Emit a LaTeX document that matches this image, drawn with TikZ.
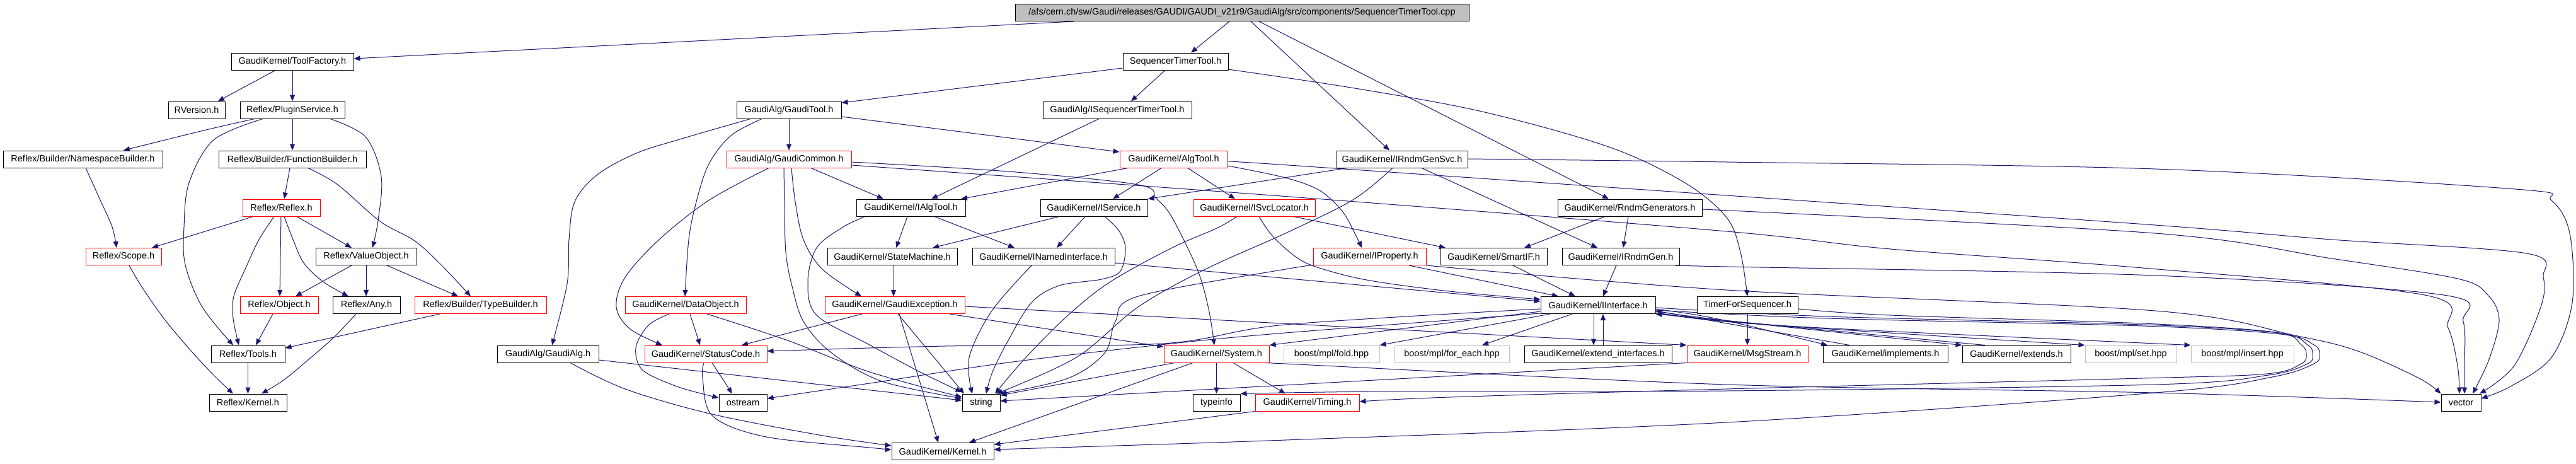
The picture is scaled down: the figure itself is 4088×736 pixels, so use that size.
\documentclass[tikz,border=0pt]{standalone}
\usepackage{fontspec}
\setmainfont{Liberation Sans}
\usetikzlibrary{arrows.meta}
\pgfdeclarelayer{bg}
\pgfsetlayers{bg,main}
\definecolor{edgec}{HTML}{191970}
\definecolor{greyb}{HTML}{BFBFBF}
\tikzset{
  nd/.style={draw=black, fill=white, line width=1pt, minimum height=27pt, inner sep=0pt, font=\fontsize{14.5}{16}\selectfont},
  rn/.style={nd, draw=red},
  gn/.style={nd, draw=greyb},
  rootn/.style={nd, fill=greyb},
  e/.style={draw=edgec, line width=1pt, -{Triangle[length=10pt,width=8pt]}},
  sm/.style={smooth, tension=0.55},
}
\begin{document}
\begin{tikzpicture}[x=1pt,y=-1pt]
\useasboundingbox (0,0) rectangle (4088,736);
% row 0
\node[rootn, minimum width=720pt] (root) at (1971,20) {/afs/cern.ch/sw/Gaudi/releases/GAUDI/GAUDI\_v21r9/GaudiAlg/src/components/SequencerTimerTool.cpp};
% row 1
\node[nd, minimum width=194pt] (toolfactory) at (464,97.5) {GaudiKernel/ToolFactory.h};
\node[nd, minimum width=167pt] (seqtt) at (1865.5,97.5) {SequencerTimerTool.h};
% row 2
\node[nd, minimum width=90pt] (rversion) at (312,174.5) {RVersion.h};
\node[nd, minimum width=166pt] (plugin) at (464,174.5) {Reflex/PluginService.h};
\node[nd, minimum width=166pt] (gauditool) at (1252,174.5) {GaudiAlg/GaudiTool.h};
\node[nd, minimum width=236pt] (iseqtt) at (1773,174.5) {GaudiAlg/ISequencerTimerTool.h};
% row 3
\node[nd, minimum width=253pt] (nsbuilder) at (131.5,252.5) {Reflex/Builder/NamespaceBuilder.h};
\node[nd, minimum width=234pt] (fbuilder) at (464,252.5) {Reflex/Builder/FunctionBuilder.h};
\node[rn, minimum width=198pt] (gaudicommon) at (1252,252.5) {GaudiAlg/GaudiCommon.h};
\node[rn, minimum width=171pt] (algtool) at (1862.5,252.5) {GaudiKernel/AlgTool.h};
\node[nd, minimum width=208pt] (irndmgensvc) at (2225,252.5) {GaudiKernel/IRndmGenSvc.h};
% row 4
\node[rn, minimum width=123pt] (reflex) at (446.5,329.5) {Reflex/Reflex.h};
\node[nd, minimum width=173pt] (ialgtool) at (1445.5,329.5) {GaudiKernel/IAlgTool.h};
\node[nd, minimum width=170pt] (iservice) at (1736,329.5) {GaudiKernel/IService.h};
\node[rn, minimum width=193pt] (isvclocator) at (1990.5,329.5) {GaudiKernel/ISvcLocator.h};
\node[nd, minimum width=229pt] (rndmgens) at (2586.5,329.5) {GaudiKernel/RndmGenerators.h};
% row 5
\node[rn, minimum width=120pt] (scope) at (196,407) {Reflex/Scope.h};
\node[nd, minimum width=160pt] (valueobject) at (581,407) {Reflex/ValueObject.h};
\node[nd, minimum width=206pt] (statemachine) at (1416,407) {GaudiKernel/StateMachine.h};
\node[nd, minimum width=226pt] (inamed) at (1656,407) {GaudiKernel/INamedInterface.h};
\node[rn, minimum width=179pt] (iproperty) at (2173.5,407) {GaudiKernel/IProperty.h};
\node[nd, minimum width=169pt] (smartif) at (2370.5,407) {GaudiKernel/SmartIF.h};
\node[nd, minimum width=186pt] (irndmgen) at (2572,407) {GaudiKernel/IRndmGen.h};
% row 6
\node[rn, minimum width=124pt] (object) at (443,484) {Reflex/Object.h};
\node[nd, minimum width=107pt] (any) at (581.5,484) {Reflex/Any.h};
\node[rn, minimum width=209pt] (typebuilder) at (762.5,484) {Reflex/Builder/TypeBuilder.h};
\node[rn, minimum width=192pt] (dataobject) at (1088,484) {GaudiKernel/DataObject.h};
\node[rn, minimum width=222pt] (gaudiexc) at (1420,484) {GaudiKernel/GaudiException.h};
\node[nd, minimum width=182pt] (iinterface) at (2536,484) {GaudiKernel/IInterface.h};
\node[nd, minimum width=160pt] (timerforseq) at (2773,484) {TimerForSequencer.h};
% row 7
\node[nd, minimum width=117pt] (tools) at (393.5,561.5) {Reflex/Tools.h};
\node[nd, minimum width=161pt] (gaudialg) at (869.5,561.5) {GaudiAlg/GaudiAlg.h};
\node[rn, minimum width=194pt] (statuscode) at (1120,561.5) {GaudiKernel/StatusCode.h};
\node[rn, minimum width=167pt] (system) at (1930.5,561.5) {GaudiKernel/System.h};
\node[gn, minimum width=152pt] (fold) at (2113,561.5) {boost/mpl/fold.hpp};
\node[gn, minimum width=182pt] (foreach) at (2304,561.5) {boost/mpl/for\_each.hpp};
\node[nd, minimum width=234pt] (extendif) at (2536,561.5) {GaudiKernel/extend\_interfaces.h};
\node[rn, minimum width=192pt] (msgstream) at (2773,561.5) {GaudiKernel/MsgStream.h};
\node[nd, minimum width=198pt] (implements) at (2992,561.5) {GaudiKernel/implements.h};
\node[nd, minimum width=172pt] (extends) at (3200,561.5) {GaudiKernel/extends.h};
\node[gn, minimum width=145pt] (set) at (3381.5,561.5) {boost/mpl/set.hpp};
\node[gn, minimum width=163pt] (insert) at (3558.5,561.5) {boost/mpl/insert.hpp};
% row 8
\node[nd, minimum width=123pt] (rkernel) at (393.5,638.5) {Reflex/Kernel.h};
\node[nd, minimum width=76pt] (ostream) at (1179,638.5) {ostream};
\node[nd, minimum width=60pt] (string) at (1557,638.5) {string};
\node[nd, minimum width=75pt] (typeinfo) at (1930.5,638.5) {typeinfo};
\node[rn, minimum width=165pt] (timing) at (2074.5,638.5) {GaudiKernel/Timing.h};
\node[nd, minimum width=63pt] (vector) at (3905.5,638.5) {vector};
% row 9
\node[nd, minimum width=162pt] (gkernel) at (1496,716) {GaudiKernel/Kernel.h};

\begin{pgfonlayer}{bg}
% root
\draw[e] (root.south -| 1704,0) -- (toolfactory.east |- 0,93);
\draw[e] (root.south -| 1951,0) -- (seqtt.north -| 1890,0);
\draw[e] (root.south -| 1985,0) -- (irndmgensvc.north -| 2205,0);
\draw[e] (root.south -| 1998,0) -- (rndmgens.north -| 2553,0);
% reflex part
\draw[e] (toolfactory.south -| 437,0) -- (rversion.north -| 346,0);
\draw[e] (toolfactory.south) -- (plugin.north);
\draw[e] (plugin.south -| 404,0) .. controls (330,205) .. (nsbuilder.north -| 196,0);
\draw[e] (plugin.south) -- (fbuilder.north);
\draw[e] plot[sm] coordinates {(plugin.south -| 417,0) (339,222) (300,290) (292,360) (294,420) (321,487) (tools.north -| 370,0)};
\draw[e] plot[sm] coordinates {(plugin.south -| 524,0) (580,217) (605,280) (600,350) (valueobject.north -| 591,0)};
\draw[e] plot[sm] coordinates {(nsbuilder.south -| 136,0) (158,315) (178,360) (scope.north -| 185,0)};
\draw[e] (fbuilder.south -| 460,0) -- (reflex.north -| 451,0);
\draw[e] plot[sm] coordinates {(fbuilder.south -| 489,0) (536,293) (603,351) (658,382) (700,420) (typebuilder.north -| 747,0)};
\draw[e] (reflex.south -| 402,0) -- (scope.north -| 241,0);
\draw[e] plot[sm] coordinates {(reflex.south -| 435,0) (411,380) (390,425) (371,470) (370,505) (tools.north -| 379,0)};
\draw[e] (reflex.south -| 446,0) -- (object.north -| 444,0);
\draw[e] plot[sm] coordinates {(reflex.south -| 451,0) (465,380) (482,417) (513,447) (any.north -| 553,0)};
\draw[e] (reflex.south -| 471,0) -- (valueobject.north -| 558,0);
\draw[e] (valueobject.south -| 558,0) -- (object.north -| 469,0);
\draw[e] (valueobject.south) -- (any.north -| 581,0);
\draw[e] (valueobject.south -| 614,0) -- (typebuilder.north -| 727,0);
\draw[e] (object.south -| 433,0) -- (tools.north -| 406,0);
\draw[e] plot[sm] coordinates {(any.south -| 565,0) (530,535) (490,570) (450,603) (rkernel.north -| 415,0)};
\draw[e] (typebuilder.south -| 698,0) -- (tools.east |- 0,552);
\draw[e] plot[sm] coordinates {(scope.south -| 205,0) (225,455) (260,505) (300,553) (339,595) (rkernel.north -| 370,0)};
\draw[e] (tools.south) -- (rkernel.north);
% gaudi tool
\draw[e] (gauditool.south) -- (gaudicommon.north);
\draw[e] plot[sm] coordinates {(gauditool.south -| 1191,0) (1082,220) (1010,243) (948,277) (912,320) (903,380) (900,450) (gaudialg.north -| 876,0)};
\draw[e] plot[sm] coordinates {(gauditool.south -| 1209,0) (1160,215) (1125,260) (1105,320) (1093,380) (dataobject.north -| 1087,0)};
\draw[e] (gauditool.east |- 0,185) -- (algtool.west |- 0,241);
\draw[e] (seqtt.west |- 0,108) -- (gauditool.east |- 0,163);
\draw[e] (seqtt.south -| 1849,0) -- (iseqtt.north -| 1795,0);
\draw[e] plot[sm] coordinates {(seqtt.east |- 0,110) (2150,140) (2352,177) (2553,233) (2674,290) (2740,345) (2762,400) (timerforseq.north -| 2773,0)};
\draw[e] (iseqtt.south -| 1744,0) -- (ialgtool.north -| 1478,0);
% gaudi common
\draw[e] (gaudicommon.south -| 1287,0) -- (ialgtool.north -| 1402,0);
\draw[e] plot[sm] coordinates {(gaudicommon.south -| 1220,0) (1126,317) (1046,380) (992,440) (978,487) (1000,522) (statuscode.north -| 1051,0)};
\draw[e] plot[sm] coordinates {(gaudicommon.south -| 1256,0) (1262,320) (1275,380) (1305,427) (gaudiexc.north -| 1367,0)};
\draw[e] plot[sm] coordinates {(gaudicommon.south -| 1244,0) (1245,330) (1247,400) (1256,450) (1275,510) (1320,560) (1400,605) (string.west |- 0,632)};
\draw[e] plot[sm] coordinates {(gaudicommon.east |- 0,257) (1600,272) (1806,293) (1835,315) (1860,345) (1900,427) (1918,490) (system.north -| 1927,0)};
\draw[e] plot[sm] coordinates {(gaudicommon.east |- 0,262) (2060,313) (2740,367) (3000,395) (3400,425) (3848,468) (3885,520) (3900,580) (vector.north -| 3903,0)};
% alg tool
\draw[e] (algtool.south -| 1790,0) -- (ialgtool.north -| 1525,0);
\draw[e] (algtool.south -| 1843,0) -- (iservice.north -| 1766,0);
\draw[e] (algtool.south -| 1885,0) -- (isvclocator.north -| 1960,0);
\draw[e] plot[sm] coordinates {(algtool.east |- 0,263) (2040,282) (2094,302) (2130,335) (2150,370) (iproperty.north -| 2161,0)};
\draw[e] plot[sm] coordinates {(algtool.east |- 0,256) (2060,263) (2740,310) (3420,357) (3700,380) (4010,402) (4036,440) (4032,487) (3990,580) (vector.north -| 3935,0)};
% rndm
\draw[e] (irndmgensvc.south -| 2138,0) -- (iservice.north east);
\draw[e] (irndmgensvc.south -| 2256,0) -- (irndmgen.north -| 2535,0);
\draw[e] plot[sm] coordinates {(irndmgensvc.south -| 2210,0) (2147,317) (2040,370) (1913,427) (1806,487) (1708,567) (string.north -| 1581,0)};
\draw[e] plot[sm] coordinates {(irndmgensvc.east |- 0,252) (2740,257) (3420,268) (3992,300) (4049,318) (4078,370) (4082,480) (4049,567) (3984,613) (vector.east |- 0,632)};
\draw[e] (rndmgens.south -| 2547,0) -- (smartif.north -| 2419,0);
\draw[e] (rndmgens.south -| 2584,0) -- (irndmgen.north -| 2576,0);
\draw[e] plot[sm] coordinates {(rndmgens.east |- 0,332) (3420,370) (3700,410) (3900,442) (3948,468) (3966,507) (3950,570) (vector.north -| 3924,0)};
% interfaces
\draw[e] (ialgtool.south -| 1440,0) -- (statemachine.north -| 1422,0);
\draw[e] (ialgtool.south -| 1483,0) -- (inamed.north -| 1610,0);
\draw[e] plot[sm] coordinates {(ialgtool.south -| 1373,0) (1338,360) (1296,393) (1282,447) (1296,500) (1380,547) (1460,590) (string.west |- 0,622)};
\draw[e] (iservice.south -| 1681,0) -- (statemachine.north -| 1480,0);
\draw[e] (iservice.south -| 1722,0) -- (inamed.north -| 1677,0);
\draw[e] plot[sm] coordinates {(iservice.south -| 1753,0) (1775,365) (1786,393) (1778,430) (1748,443) (1681,453) (1637,480) (1600,540) (1575,590) (string.north -| 1565,0)};
\draw[e] (isvclocator.south -| 2053,0) -- (smartif.north -| 2294,0);
\draw[e] plot[sm] coordinates {(isvclocator.south -| 1998,0) (2020,375) (2060,410) (2100,427) (2174,445) (2300,462) (iinterface.west |- 0,475)};
\draw[e] plot[sm] coordinates {(isvclocator.south -| 1963,0) (1931,362) (1860,393) (1762,447) (1695,500) (1628,567) (string.north -| 1579,0)};
\draw[e] plot[sm] coordinates {(inamed.south -| 1637,0) (1574,493) (1538,567) (string.north -| 1543,0)};
\draw[e] (inamed.east |- 0,417) -- (iinterface.west |- 0,478);
\draw[e] (iproperty.south -| 2236,0) -- (iinterface.north -| 2473,0);
\draw[e] plot[sm] coordinates {(iproperty.south west) (2040,427) (1806,470) (1770,510) (1753,560) (1695,600) (string.north east)};
\draw[e] plot[sm] coordinates {(iproperty.east |- 0,421) (2740,460) (3420,493) (3646,533) (3742,557) (3839,600) (vector.north west)};
\draw[e] (smartif.south -| 2401,0) -- (iinterface.north -| 2500,0);
\draw[e] (irndmgen.south -| 2565,0) -- (iinterface.north -| 2544,0);
\draw[e] plot[sm] coordinates {(irndmgen.east |- 0,421) (2740,423) (3420,437) (3878,468) (3909,510) (3911,580) (vector.north -| 3911,0)};
\draw[e] (statemachine.south -| 1418,0) -- (gaudiexc.north -| 1418,0);
% exception, data object
\draw[e] (gaudiexc.south -| 1368,0) -- (statuscode.north -| 1177,0);
\draw[e] (gaudiexc.south -| 1425,0) -- (string.north -| 1530,0);
\draw[e] (gaudiexc.south -| 1427,0) -- (gkernel.north -| 1489,0);
\draw[e] (gaudiexc.south -| 1507,0) -- (system.west |- 0,550);
\draw[e] (gaudiexc.east |- 0,486) -- (msgstream.north west);
\draw[e] (dataobject.south -| 1095,0) -- (statuscode.north -| 1111,0);
\draw[e] plot[sm] coordinates {(dataobject.south -| 1062,0) (1030,515) (1010,547) (1012,575) (1028,593) (1080,615) (ostream.west |- 0,631)};
\draw[e] plot[sm] coordinates {(dataobject.south -| 1122,0) (1250,540) (1380,590) (string.west |- 0,630)};
\draw[e] (gaudialg.east |- 0,571) -- (string.west |- 0,635);
\draw[e] plot[sm] coordinates {(gaudialg.south -| 905,0) (992,617) (1126,656) (1300,690) (gkernel.west |- 0,707)};
\draw[e] (statuscode.south -| 1130,0) -- (ostream.north -| 1162,0);
\draw[e] plot[sm] coordinates {(statuscode.south -| 1117,0) (1115,600) (1131,660) (1216,693) (1380,710) (gkernel.west |- 0,713)};
% system
\draw[e] (system.south) -- (typeinfo.north);
\draw[e] (system.south -| 1957,0) -- (timing.north -| 2040,0);
\draw[e] (system.south -| 1893,0) -- (gkernel.north -| 1538,0);
\draw[e] (system.south -| 1864,0) -- (string.east |- 0,627);
\draw[e] plot[sm] coordinates {(system.south east) (2060,578) (2740,610) (3420,623) (vector.west |- 0,638)};
\draw[e] (timing.south west) -- (gkernel.east |- 0,705);
\draw[e] (msgstream.south west) -- (string.east |- 0,636);
\draw[e] (timerforseq.south) -- (msgstream.north);
\draw[e] plot[sm] coordinates {(timerforseq.east |- 0,490) (3000,500) (3400,513) (3611,527) (3652,547) (3660,562) (3652,577) (3597,593) (3400,600) (2740,617) (2300,630) (timing.east |- 0,637)};
% interface
\draw[e] plot[sm] coordinates {(iinterface.east |- 0,492) (2900,505) (3400,517) (3619,530) (3672,547) (3681,562) (3672,577) (3606,598) (3420,623) (2740,670) (2040,698) (gkernel.east |- 0,713)};
\draw[e] plot[sm] coordinates {(iinterface.east |- 0,488) (2900,502) (3400,515) (3615,528) (3662,547) (3670,562) (3662,577) (3600,595) (3420,610) (2740,620) (2200,621) (typeinfo.north east)};
\draw[e] (iinterface.south -| 2529,0) -- (extendif.north -| 2529,0);
\draw[e] (extendif.north -| 2544,0) -- (iinterface.south -| 2544,0);
\draw[e] (iinterface.south -| 2460,0) -- (fold.north east);
\draw[e] (iinterface.south -| 2495,0) -- (foreach.north -| 2352,0);
\draw[e] (iinterface.east |- 0,490) .. controls (2720,503) .. (implements.north -| 2900,0);
\draw[e] (iinterface.east |- 0,494) .. controls (2720,507) .. (extends.north west);
\draw[e] (iinterface.east |- 0,496) .. controls (2740,512) .. (set.north west);
\draw[e] (iinterface.east |- 0,497) .. controls (2760,515) .. (insert.north west);
\draw[e] (implements.north -| 2935,0) -- (iinterface.east |- 0,493);
\draw[e] (extends.north -| 3150,0) -- (iinterface.south east);
\draw[e] plot[sm] coordinates {(iinterface.west |- 0,490) (2040,515) (1845,545) (1500,549) (statuscode.east |- 0,557)};
\draw[e] (iinterface.west |- 0,494) -- (system.north east);
\draw[e] plot[sm] coordinates {(iinterface.west |- 0,497) (2040,528) (1850,546) (1600,575) (1380,608) (ostream.east |- 0,632)};
\end{pgfonlayer}
\end{tikzpicture}
\end{document}
